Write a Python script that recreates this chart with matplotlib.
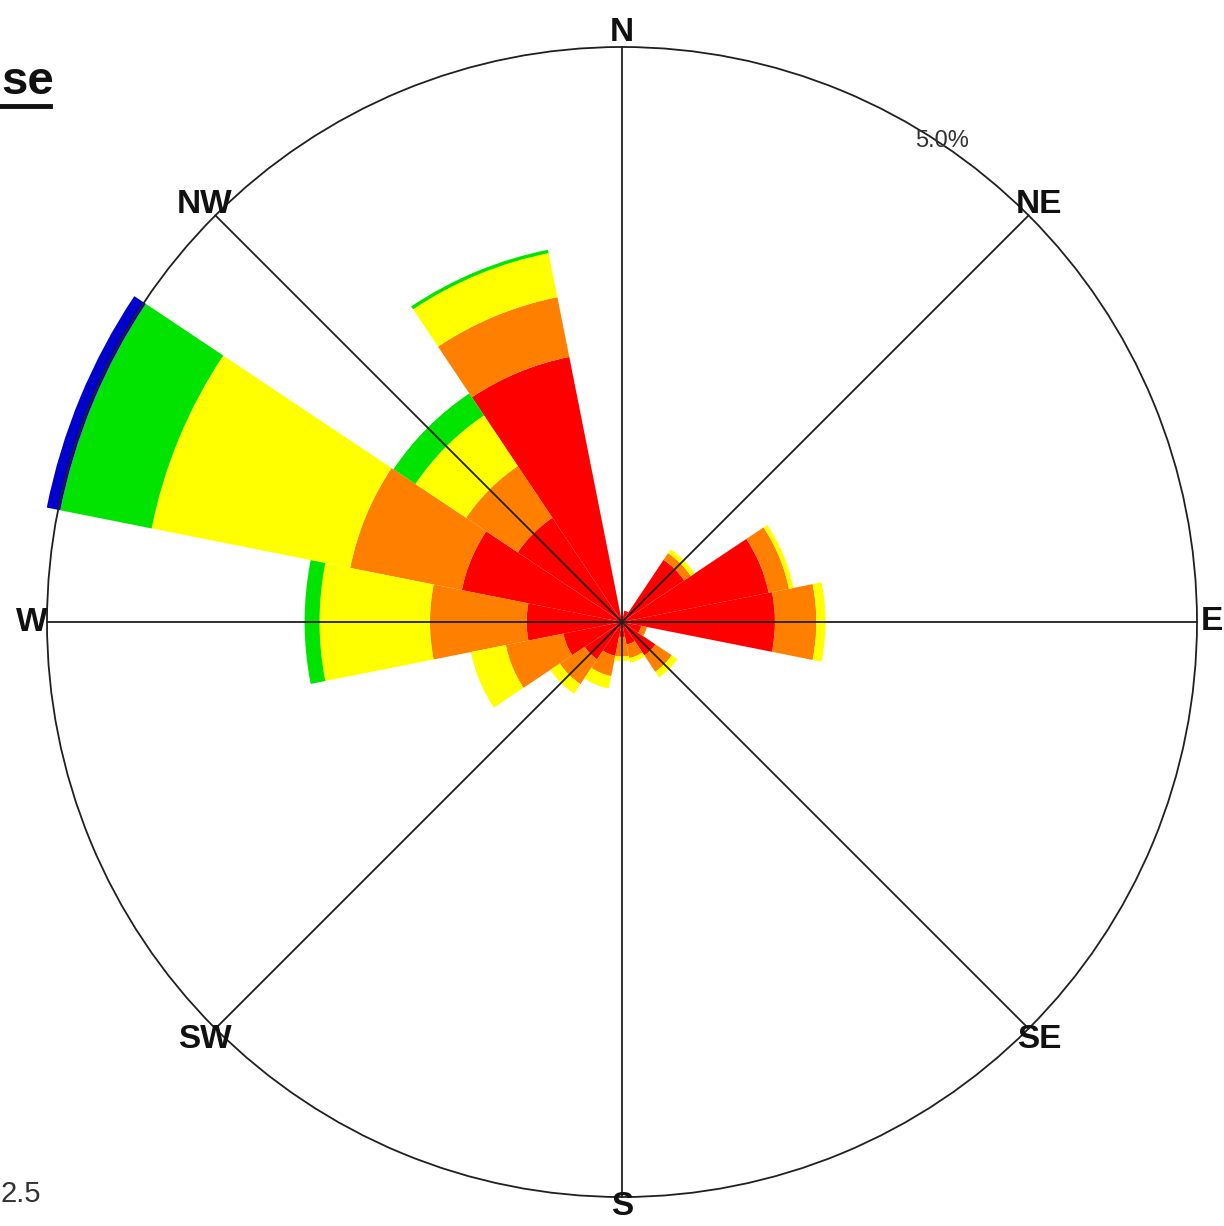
import numpy as np
import matplotlib
matplotlib.use('Agg')
import matplotlib.pyplot as plt
from matplotlib.lines import Line2D

# 16 compass sectors, frequencies in percent per speed class
dirs = ['N', 'NNE', 'NE', 'ENE', 'E', 'ESE', 'SE', 'SSE',
        'S', 'SSW', 'SW', 'WSW', 'W', 'WNW', 'NW', 'NNW']
red    = [0.05, 0.10, 0.65, 1.30, 1.33, 0.17, 0.35, 0.20, 0.13, 0.30, 0.39, 0.52, 0.83, 1.42, 1.09, 2.35]
orange = [0.00, 0.00, 0.07, 0.18, 0.36, 0.05, 0.17, 0.12, 0.17, 0.18, 0.26, 0.51, 0.84, 0.99, 0.54, 0.53]
yellow = [0.00, 0.00, 0.04, 0.04, 0.08, 0.00, 0.06, 0.04, 0.04, 0.11, 0.10, 0.31, 0.96, 1.76, 0.53, 0.39]
green  = [0.00, 0.00, 0.00, 0.00, 0.00, 0.00, 0.00, 0.00, 0.00, 0.00, 0.00, 0.00, 0.13, 0.81, 0.23, 0.03]
blue   = [0.00, 0.00, 0.00, 0.00, 0.00, 0.00, 0.00, 0.00, 0.00, 0.00, 0.00, 0.00, 0.00, 0.12, 0.00, 0.00]
classes = [red, orange, yellow, green, blue]
class_colors = ['#ff0000', '#ff8000', '#ffff00', '#00e400', '#0000cc']

ring = 5.0
ring_label = '5.0%'
compass = ['N', 'NE', 'E', 'SE', 'S', 'SW', 'W', 'NW']

fig = plt.figure(figsize=(12.24, 12.26), dpi=100)
ax = fig.add_axes([47 / 1224, 29 / 1226, 1150 / 1224, 1150 / 1226], projection='polar')
ax.set_theta_zero_location('N')
ax.set_theta_direction(-1)

theta = np.deg2rad(np.arange(len(dirs)) * 22.5)
width = np.deg2rad(22.5)
bottom = np.zeros(len(dirs))
for vals, col in zip(classes, class_colors):
    vals = np.array(vals)
    ax.bar(theta, vals, width=width, bottom=bottom, color=col,
           edgecolor='none', linewidth=0, clip_on=False, zorder=2)
    bottom += vals

# spokes and compass labels
for i, lab in enumerate(compass):
    t = np.deg2rad(i * 45)
    ax.plot([t, t], [0, ring], color='#202020', lw=1.3, zorder=3, clip_on=False)
    r_lab = ring * (1.016 if lab == 'S' else 1.026)
    ax.text(t, r_lab, lab, ha='center', va='center', fontsize=24,
            fontweight='bold', family='Liberation Sans', color='#111111', zorder=4)

ax.text(np.deg2rad(33.6), ring * 1.005, ring_label, ha='center', va='center',
        fontsize=17, family='Liberation Sans', color='#333333', zorder=4)

ax.set_ylim(0, ring)
ax.set_xticks([])
ax.set_yticks([])
ax.grid(False)
ax.spines['polar'].set_color('#202020')
ax.spines['polar'].set_linewidth(1.3)

# title and legend remnants at the left edge
fig.text(1 / 1224, 1 - 82 / 1226, 'se', ha='left', va='center', fontsize=34,
         fontweight='bold', family='Liberation Sans', color='#111111')
fig.add_artist(Line2D([0, 50 / 1224], [1 - 106 / 1226, 1 - 106 / 1226],
                      color='#111111', lw=3.5, transform=fig.transFigure))
fig.text(1 / 1224, 1 - 1194 / 1226, '2.5', ha='left', va='center', fontsize=21,
         family='Liberation Sans', color='#333333')

fig.savefig('out.png', dpi=100)
